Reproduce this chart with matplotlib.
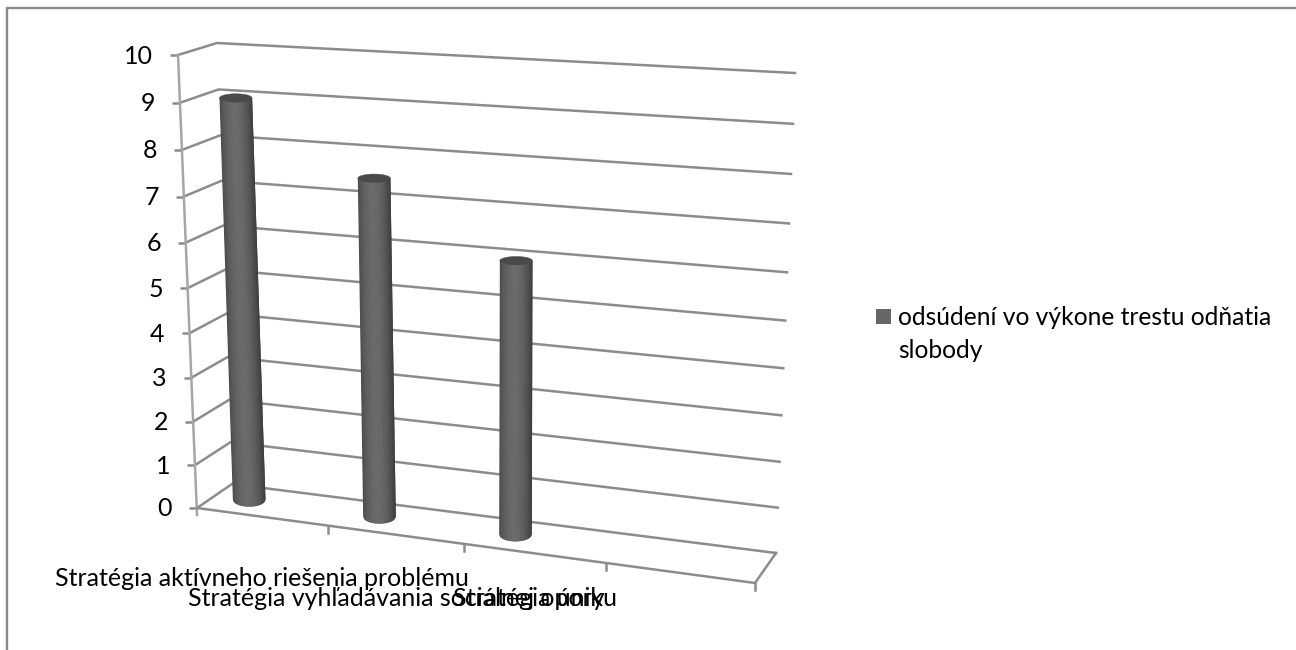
import numpy as np
import matplotlib
matplotlib.use("Agg")
import matplotlib.pyplot as plt
from matplotlib.collections import PolyCollection
from matplotlib.patches import Rectangle, Polygon
from matplotlib.transforms import Transform

categories = ["Stratégia aktívneho riešenia problému",
              "Stratégia vyhľadávania sociálnej opory",
              "Stratégia úniku"]
values = [9.0, 7.5, 6.0]
series_name = "odsúdení vo výkone trestu odňatia\nslobody"
y_ticks = list(range(0, 11))


def homography(corners):
    """corners: pixel positions for (u,v)=(0,0),(4,0),(0,10),(4,10)."""
    src = [(0, 0), (4, 0), (0, 10), (4, 10)]
    A, b = [], []
    for (u, v), (x, y) in zip(src, corners):
        A.append([u, v, 1, 0, 0, 0, -u * x, -v * x]); b.append(x)
        A.append([0, 0, 0, u, v, 1, -u * y, -v * y]); b.append(y)
    h = np.linalg.solve(np.array(A, float), np.array(b, float))
    return np.append(h, 1).reshape(3, 3)


H_FRONT = homography([(197, 508), (755, 583), (178, 55), (771, 92)])
H_BACK = homography([(232, 484), (776, 553), (217, 43), (795, 73)])


class Chart3D(Transform):
    """Category/value space at a given depth (0 front, 1 back wall) to pixels."""
    input_dims = output_dims = 2

    def __init__(self, dz):
        super().__init__()
        self.dz = dz

    def transform_non_affine(self, pts):
        pts = np.asarray(pts, float)
        q = np.c_[pts, np.ones(len(pts))]
        out = []
        for H in (H_FRONT, H_BACK):
            r = q @ H.T
            out.append(r[:, :2] / r[:, 2:3])
        return out[0] * (1 - self.dz) + out[1] * self.dz


plt.rcParams["font.family"] = ["Lato", "DejaVu Sans"]
fig = plt.figure(figsize=(12.96, 6.5), dpi=100, facecolor="white")
ax = fig.add_axes([0, 0, 1, 1])
ax.set_xlim(0, 1296)
ax.set_ylim(650, 0)
ax.axis("off")

front = Chart3D(0.0)
back = Chart3D(1.0)
GRID = "#8c8c8c"
LW = 1.8
FS = 18
n_slots = 4


def P(T, u, v):
    return T.transform(np.array([[u, v]], float))[0]


# chart frame: only the top and left edges fall inside the picture
ax.plot([6.5, 6.5, 1296], [650, 7.5, 7.5], color="#8a8a8a", lw=1.7, solid_joinstyle="miter")

# back wall and side wall gridlines
for v in y_ticks:
    a, b, c = P(front, 0, v), P(back, 0, v), P(back, n_slots, v)
    ax.plot([a[0] - 8, a[0]], [a[1], a[1]], color=GRID, lw=LW, solid_capstyle="butt")
    ax.plot([a[0], b[0], c[0]], [a[1], b[1], c[1]], color=GRID, lw=LW, solid_joinstyle="miter")
    ax.text(a[0] - 25, a[1] + 1, str(v), ha="right", va="center", fontsize=FS, color="black")

# front vertical axis and floor
a, b = P(front, 0, 0), P(front, 0, 10)
ax.plot([a[0], b[0]], [a[1] + 7, b[1]], color="#a6a6a6", lw=LW)
f0, f1, b1 = P(front, 0, 0), P(front, n_slots, 0), P(back, n_slots, 0)
ax.plot([f0[0], f1[0], b1[0]], [f0[1], f1[1], b1[1]], color=GRID, lw=LW)
for u in range(1, n_slots + 1):
    p = P(front, u, 0)
    ax.plot([p[0], p[0]], [p[1], p[1] + 7], color=GRID, lw=LW)

# cylinders: the axis of each comes from the chart transform, the round ends stay level
bar_t = Chart3D(0.53)
U_OFF = 0.265
HALF_W, RY_BOTTOM, RY_TOP = 16.3, 7.0, 4.2
N = 48
for i, val in enumerate(values):
    base, top = bar_t.transform(np.array([[i + U_OFF, 0.0], [i + U_OFF, val]]))
    s = np.linspace(-1, 1, N + 1)
    polys, cols = [], []
    for k in range(N):
        s_l, s_r = s[k], s[min(k + 2, N)]
        tt = (s[k] + s[k + 1]) / 2
        prof = lambda z: np.sqrt(np.clip(1 - z ** 2, 0, 1))
        polys.append([
            (base[0] + HALF_W * s_l, base[1] + RY_BOTTOM * prof(s_l)),
            (base[0] + HALF_W * s_r, base[1] + RY_BOTTOM * prof(s_r)),
            (top[0] + HALF_W * s_r, top[1]),
            (top[0] + HALF_W * s_l, top[1])])
        g = 0.415 - 0.15 * abs(tt + 0.1) ** 2.0
        cols.append((g, g, g))
    ax.add_collection(PolyCollection(polys, facecolors=cols, edgecolors="none", zorder=3))
    th = np.linspace(0, 2 * np.pi, 60)
    cap = np.c_[top[0] + HALF_W * np.cos(th), top[1] + RY_TOP * np.sin(th)]
    ax.add_patch(Polygon(cap, closed=True, fc="#4a4a4a", ec="#4a4a4a", lw=0.3, zorder=4))

# category labels
label_y = [579, 598, 598]
for i, cat in enumerate(categories):
    x = (P(front, i, 0)[0] + P(front, i + 1, 0)[0]) / 2
    ax.text(x, label_y[i], cat, ha="center", va="center", fontsize=FS, color="black", zorder=5)

# legend
ax.add_patch(Rectangle((876, 309), 15, 15, fc="#666666", ec="none"))
ax.text(898, 334, series_name, ha="left", va="center", fontsize=FS - 0.3, color="black", linespacing=1.5)

fig.savefig("out.png", dpi=100)
